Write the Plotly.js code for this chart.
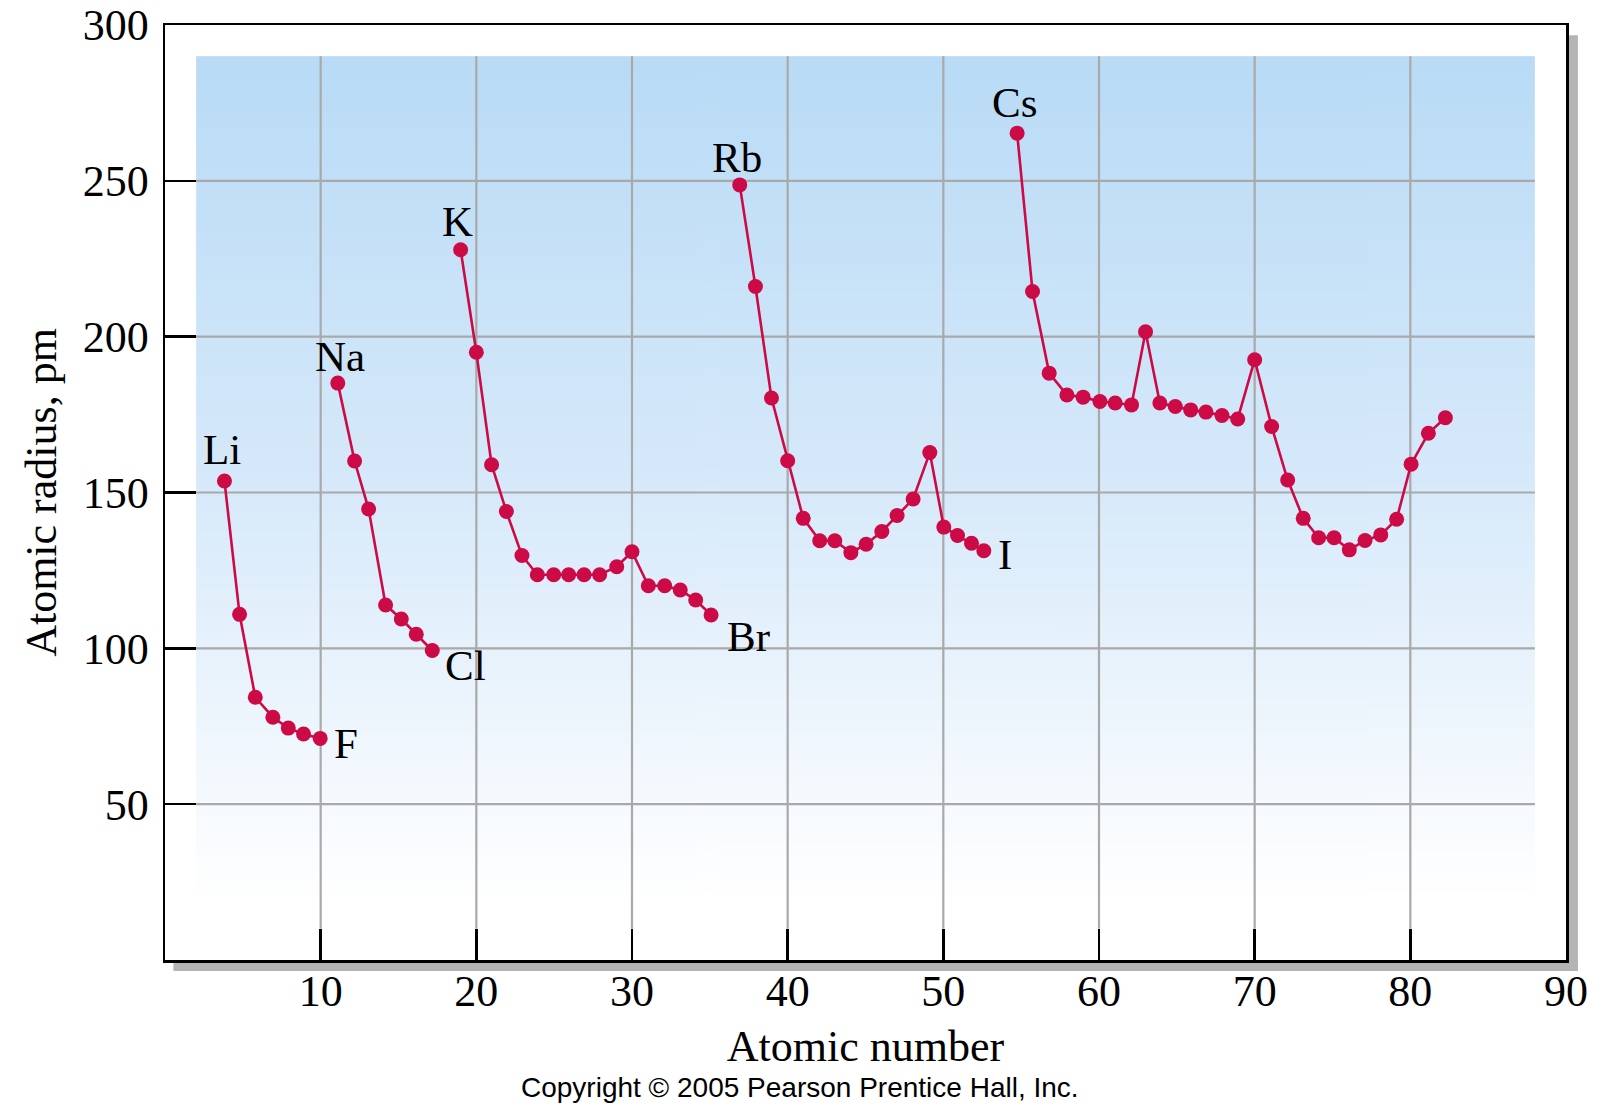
<!DOCTYPE html>
<html>
<head>
<meta charset="utf-8">
<script src="https://cdn.plot.ly/plotly-3.0.1.min.js"></script>
<style>
html,body{margin:0;padding:0;background:#fff;}
#chart{width:1600px;height:1110px;}
</style>
</head>
<body>
<div id="chart"></div>
<script>
// ---- data (atomic number as plotted, radius in pm) ----
const period2Names = ["Li","Be","B","C","N","O","F"];
const period2X = [3.82, 4.79, 5.80, 6.93, 7.92, 8.90, 9.97];
const period2Y = [153.7, 110.9, 84.3, 77.9, 74.4, 72.5, 71.1];

const period3Names = ["Na","Mg","Al","Si","P","S","Cl"];
const period3X = [11.10, 12.18, 13.08, 14.17, 15.18, 16.14, 17.17];
const period3Y = [185.1, 160.1, 144.7, 113.9, 109.4, 104.5, 99.3];

const period4Names = ["K","Ca","Sc","Ti","V","Cr","Mn","Fe","Co","Ni","Cu","Zn","Ga","Ge","As","Se","Br"];
const period4X = [18.99, 20.00, 20.98, 21.93, 22.93, 23.92, 24.97, 25.93, 26.92, 27.92, 29.02, 30.00, 31.05, 32.10, 33.10, 34.09, 35.08];
const period4Y = [227.9, 195.0, 158.9, 143.9, 129.8, 123.6, 123.6, 123.6, 123.6, 123.6, 126.2, 131.0, 120.1, 120.1, 118.7, 115.5, 110.7];

const period5Names = ["Rb","Sr","Y","Zr","Nb","Mo","Tc","Ru","Rh","Pd","Ag","Cd","In","Sn","Sb","Te","I"];
const period5X = [36.92, 37.93, 38.96, 40.00, 41.00, 42.06, 43.03, 44.06, 45.04, 46.05, 47.03, 48.06, 49.13, 50.03, 50.91, 51.81, 52.60];
const period5Y = [248.7, 216.1, 180.3, 160.2, 141.7, 134.5, 134.5, 130.7, 133.4, 137.5, 142.6, 147.9, 162.8, 138.9, 136.2, 133.7, 131.3];

const period6Names = ["Cs","Ba","La","Ce","Pr","Nd","Pm","Sm","Eu","Gd","Tb","Dy","Ho","Er","Tm","Yb","Lu","Hf","Ta","W","Re","Os","Ir","Pt","Au","Hg","Tl","Pb"];
const period6X = [54.74, 55.73, 56.80, 57.94, 58.98, 60.06, 61.04, 62.09, 62.99, 63.91, 64.90, 65.89, 66.87, 67.90, 68.91, 70.00, 71.09, 72.12, 73.12, 74.11, 75.10, 76.08, 77.09, 78.10, 79.12, 80.05, 81.16, 82.25];
const period6Y = [265.3, 214.5, 188.3, 181.3, 180.6, 179.2, 178.7, 178.1, 201.6, 178.7, 177.6, 176.5, 175.8, 174.7, 173.6, 192.6, 171.2, 154.0, 141.7, 135.5, 135.5, 131.6, 134.6, 136.4, 141.4, 159.1, 169.0, 174.0];

// labelled elements: name, and label offset (px) from its point
const labelNames = ["Li","F","Na","Cl","K","Br","Rb","I","Cs"];
const labelDX = [-2, 26, 2, 33, -3, 37, -3, 21, -3];
const labelDY = [31, -5, 27, -15, 28, -22, 27, -4, 31];

const xTickVals = [10,20,30,40,50,60,70,80,90];
const yTickVals = [50,100,150,200,250,300];
const xGridVals = [10,20,30,40,50,60,70,80];
const yGridVals = [50,100,150,200,250];

// ---- styling ----
const RED = "#cc0a45";
const SERIF = "Liberation Serif, Times New Roman, serif";
const GRID = "#a9a9a9";

const periods = [
  [period2Names, period2X, period2Y],
  [period3Names, period3X, period3Y],
  [period4Names, period4X, period4Y],
  [period5Names, period5X, period5Y],
  [period6Names, period6X, period6Y]
];

const traces = periods.map(p => ({
  type: "scatter", mode: "lines+markers",
  x: p[1], y: p[2], text: p[0],
  line: {color: RED, width: 2.6},
  marker: {color: RED, size: 15},
  hoverinfo: "text+y", showlegend: false
}));

// label annotations anchored at the data points
const annotations = [];
labelNames.forEach((nm, i) => {
  for (const p of periods) {
    const k = p[0].indexOf(nm);
    if (k >= 0) {
      annotations.push({
        x: p[1][k], y: p[2][k], xref: "x", yref: "y",
        text: nm, showarrow: false,
        xanchor: "center", yanchor: "middle",
        xshift: labelDX[i], yshift: labelDY[i],
        font: {family: SERIF, size: 43, color: "#000"}
      });
    }
  }
});
annotations.push({
  xref: "paper", yref: "paper", x: 0.4533, y: -0.118,
  xanchor: "center", yanchor: "top", showarrow: false,
  text: "Copyright © 2005 Pearson Prentice Hall, Inc.",
  font: {family: "Liberation Sans, Arial, sans-serif", size: 28, color: "#000"}
});

// gridlines (only inside the shaded panel) and drop shadow
const GX0 = 2, GX1 = 88, GY0 = 10, GY1 = 290;
const shapes = [];
xGridVals.forEach(v => shapes.push({type:"line", xref:"x", yref:"y", x0:v, x1:v, y0:GY0, y1:GY1, line:{color:GRID, width:2.2}, layer:"between"}));
yGridVals.forEach(v => shapes.push({type:"line", xref:"x", yref:"y", x0:GX0, x1:GX1, y0:v, y1:v, line:{color:GRID, width:2.2}, layer:"between"}));
shapes.push({type:"rect", xref:"paper", yref:"paper", x0:1.0, x1:1.0085, y0:-0.0118, y1:0.989, fillcolor:"#b4b4b4", line:{width:0}, layer:"below"});
shapes.push({type:"rect", xref:"paper", yref:"paper", x0:0.006, x1:1.0085, y0:-0.0118, y1:0.0, fillcolor:"#b4b4b4", line:{width:0}, layer:"below"});

// gradient panel as an image
const cv = document.createElement("canvas");
cv.width = 4; cv.height = 512;
const cx = cv.getContext("2d");
const g = cx.createLinearGradient(0, 0, 0, 512);
g.addColorStop(0, "rgb(185,219,246)");
g.addColorStop(0.5, "rgb(214,233,250)");
g.addColorStop(1, "rgb(255,255,255)");
cx.fillStyle = g; cx.fillRect(0, 0, 4, 512);
const grad = cv.toDataURL("image/png");

const layout = {
  width: 1600, height: 1110,
  margin: {l: 165, r: 34, t: 25, b: 150},
  paper_bgcolor: "#fff", plot_bgcolor: "#fff",
  font: {family: SERIF, color: "#000"},
  xaxis: {
    range: [0, 90], tickvals: xTickVals, ticktext: xTickVals.map(String),
    showgrid: false, zeroline: false,
    showline: true, linecolor: "#000", linewidth: 2.5, mirror: true,
    ticks: "inside", ticklen: 31, tickwidth: 2.5, tickcolor: "#000",
    tickfont: {family: SERIF, size: 44, color: "#000"},
    ticklabelstandoff: -9,
    title: {text: "Atomic number", font: {family: SERIF, size: 44, color: "#000"}, standoff: 15}
  },
  yaxis: {
    range: [0, 300], tickvals: yTickVals, ticktext: yTickVals.map(String),
    showgrid: false, zeroline: false,
    showline: true, linecolor: "#000", linewidth: 2.5, mirror: true,
    ticks: "inside", ticklen: 31, tickwidth: 2.5, tickcolor: "#000",
    tickfont: {family: SERIF, size: 44, color: "#000"},
    ticklabelstandoff: 5,
    title: {text: "Atomic radius, pm", font: {family: SERIF, size: 44, color: "#000"}, standoff: 13}
  },
  images: [{source: grad, xref: "x", yref: "y", x: GX0, y: GY1, sizex: GX1 - GX0, sizey: GY1 - 20, sizing: "stretch", xanchor: "left", yanchor: "top", layer: "below"}],
  shapes: shapes,
  annotations: annotations
};

Plotly.newPlot("chart", traces, layout, {displayModeBar: false, staticPlot: true});
</script>
</body>
</html>
